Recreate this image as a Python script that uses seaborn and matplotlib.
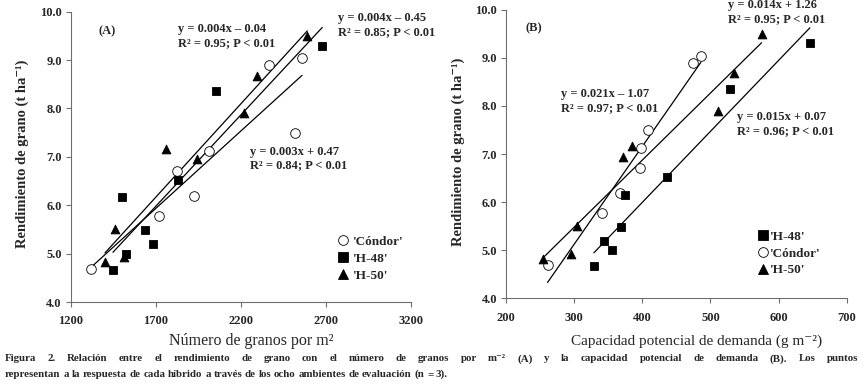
import numpy as np
import pandas as pd
import matplotlib
matplotlib.use("Agg")
import matplotlib.pyplot as plt
import seaborn as sns
from matplotlib.lines import Line2D

# ---------------- data ----------------
hybrids = ["'Cóndor'", "'H-48'", "'H-50'"]

condor_yield = [4.69, 5.78, 6.19, 6.71, 7.13, 7.50, 8.89, 9.04]
condor_grains = [1320, 1720, 1925, 1824, 2014, 2522, 2365, 2561]
condor_demand = [261, 341, 367, 397, 398, 409, 475, 486]

h48_yield = [4.67, 5.00, 5.20, 5.49, 6.16, 6.52, 8.36, 9.30]
h48_grains = [1449, 1525, 1686, 1635, 1504, 1831, 2057, 2680]
h48_demand = [329, 356, 344, 369, 375, 437, 529, 646]

h50_yield = [4.82, 4.93, 5.50, 6.95, 7.16, 7.90, 8.68, 9.49]
h50_grains = [1402, 1516, 1461, 1941, 1761, 2218, 2296, 2592]
h50_demand = [255, 295, 304, 371, 385, 511, 535, 575]

eq_a = {"'Cóndor'": ["y = 0.003x + 0.47", "R² = 0.84; P < 0.01"],
        "'H-48'": ["y = 0.004x – 0.45", "R² = 0.85; P < 0.01"],
        "'H-50'": ["y = 0.004x – 0.04", "R² = 0.95; P < 0.01"]}
eq_b = {"'Cóndor'": ["y = 0.021x – 1.07", "R² = 0.97; P < 0.01"],
        "'H-48'": ["y = 0.015x + 0.07", "R² = 0.96; P < 0.01"],
        "'H-50'": ["y = 0.014x + 1.26", "R² = 0.95; P < 0.01"]}

xticks_a = [1200, 1700, 2200, 2700, 3200]
xticks_b = [200, 300, 400, 500, 600, 700]
yticks = [4.0, 5.0, 6.0, 7.0, 8.0, 9.0, 10.0]

caption1 = ("Figura 2. Relación entre el rendimiento de grano con el número de granos por "
            "m⁻² (A) y la capacidad potencial de demanda (B). Los puntos")
caption2 = ("representan a la respuesta de cada híbrido a través de los ocho ambientes "
            "de evaluación (n = 3).")

# ---------------- table ----------------
df = pd.concat([
    pd.DataFrame({"hibrido": hybrids[0], "rend": condor_yield, "granos": condor_grains, "demanda": condor_demand}),
    pd.DataFrame({"hibrido": hybrids[1], "rend": h48_yield, "granos": h48_grains, "demanda": h48_demand}),
    pd.DataFrame({"hibrido": hybrids[2], "rend": h50_yield, "granos": h50_grains, "demanda": h50_demand}),
], ignore_index=True)

# ---------------- style ----------------
sns.set_theme(style="ticks")
plt.rcParams['font.family'] = ['Liberation Serif', 'DejaVu Serif']

markers = {"'Cóndor'": "o", "'H-48'": "s", "'H-50'": "^"}
faces = {"'Cóndor'": "white", "'H-48'": "black", "'H-50'": "black"}
sizes = {"'Cóndor'": 48, "'H-48'": 40, "'H-50'": 40}

fig = plt.figure(figsize=(8.66, 3.87), dpi=100)
axA = fig.add_axes([0.0816, 0.2196, 0.3926, 0.7502])
axB = fig.add_axes([0.5843, 0.2289, 0.3934, 0.7458])

def draw_panel(ax, xcol, xlim, xticks):
    for h in hybrids:
        sub = df[df["hibrido"] == h]
        sns.regplot(data=sub, x=xcol, y="rend", ax=ax, scatter=False, ci=None,
                    truncate=True, line_kws=dict(color="black", lw=0.9, zorder=2))
        sns.scatterplot(data=sub, x=xcol, y="rend", ax=ax, marker=markers[h],
                        color=faces[h], edgecolor="black", linewidth=0.6,
                        s=sizes[h], zorder=3, legend=False)
    ax.set_xlim(xlim)
    ax.set_ylim(4.0, 10.0)
    ax.set_xticks(xticks)
    ax.set_yticks(yticks)
    ax.set_yticklabels([f"{v:.1f}" for v in yticks])
    for s in ["top", "right"]:
        ax.spines[s].set_visible(False)
    for s in ["left", "bottom"]:
        ax.spines[s].set_color("#6e6e6e")
        ax.spines[s].set_linewidth(0.8)
    ax.tick_params(axis="both", length=3.5, width=0.8, color="#6e6e6e",
                   labelsize=9, pad=3)
    ax.tick_params(axis="x", pad=6)
    for lab in ax.get_xticklabels() + ax.get_yticklabels():
        lab.set_fontweight("bold")
    ax.set_ylabel("Rendimiento de grano (t ha⁻¹)", fontsize=10.5, fontweight="bold")
    ax.yaxis.label.set_verticalalignment("center")

draw_panel(axA, "granos", (1200, 3200), xticks_a)
draw_panel(axB, "demanda", (200, 700), xticks_b)

axA.set_xlabel("Número de granos por m²", fontsize=11.5)
axA.xaxis.set_label_coords(0.53, -0.134)
axA.xaxis.label.set_verticalalignment("center")
axA.yaxis.set_label_coords(-0.143, 0.51)

axB.set_xlabel("Capacidad potencial de demanda (g m⁻²)", fontsize=11)
axB.xaxis.set_label_coords(0.558, -0.148)
axB.xaxis.label.set_verticalalignment("center")
axB.yaxis.set_label_coords(-0.141, 0.507)

txt = dict(fontsize=9, fontweight="bold", ha="left", va="center", clip_on=False)
axA.text(0.083, 0.934, "(A)", transform=axA.transAxes, **txt)
axB.text(0.056, 0.936, "(B)", transform=axB.transAxes, **txt)

pos_a = {"'H-50'": (0.315, 0.939, 0.893), "'H-48'": (0.785, 0.977, 0.929),
         "'Cóndor'": (0.527, 0.516, 0.470)}
pos_b = {"'H-50'": (0.651, 1.017, 0.968), "'Cóndor'": (0.160, 0.707, 0.660),
         "'H-48'": (0.677, 0.627, 0.581)}
for ax, eqs, pos in [(axA, eq_a, pos_a), (axB, eq_b, pos_b)]:
    for h in hybrids:
        x, y1, y2 = pos[h]
        ax.text(x, y1, eqs[h][0], transform=ax.transAxes, **txt)
        ax.text(x, y2, eqs[h][1], transform=ax.transAxes, **txt)

def handles(order):
    return [Line2D([], [], ls="none", marker=markers[h], markersize=7 if h == "'Cóndor'" else 6.5,
                   markerfacecolor=faces[h], markeredgecolor="black", markeredgewidth=0.6,
                   label=h) for h in order]

legA = axA.legend(handles=handles(hybrids), loc="center left", bbox_to_anchor=(0.786, 0.149),
                  frameon=False, borderpad=0, borderaxespad=0, handlelength=0.8,
                  handletextpad=0.35, labelspacing=0.35,
                  prop=dict(family="Liberation Serif", weight="bold", size=9.5))
orderB = [hybrids[1], hybrids[0], hybrids[2]]
legB = axB.legend(handles=handles(orderB), loc="center left", bbox_to_anchor=(0.739, 0.156),
                  frameon=False, borderpad=0, borderaxespad=0, handlelength=0.8,
                  handletextpad=0.15, labelspacing=0.35,
                  prop=dict(family="Liberation Serif", weight="bold", size=9.5))

# ---------------- caption ----------------
def justified_line(text, x0, x1, y, justify=True, **kw):
    words = text.split(" ")
    objs = [fig.text(0, y, w, ha="left", va="baseline", **kw) for w in words]
    fig.canvas.draw()
    r = fig.canvas.get_renderer()
    W = fig.bbox.width
    widths = [o.get_window_extent(r).width for o in objs]
    sp = fig.text(0, 0, "a a", **kw)
    sp2 = fig.text(0, 0, "aa", **kw)
    fig.canvas.draw()
    space = sp.get_window_extent(r).width - sp2.get_window_extent(r).width
    sp.remove(); sp2.remove()
    if justify:
        gap = ((x1 - x0) * W - sum(widths)) / (len(words) - 1)
    else:
        gap = space
    p = x0 * W
    for o, w in zip(objs, widths):
        o.set_x(p / W)
        p += w + gap

cap_kw = dict(fontsize=7.8, fontweight="bold")
justified_line(caption1, 5 / 866, 858 / 866, 0.066, True, **cap_kw)
justified_line(caption2, 5 / 866, 858 / 866, 0.026, False, **cap_kw)

fig.savefig("out.png", dpi=100)
